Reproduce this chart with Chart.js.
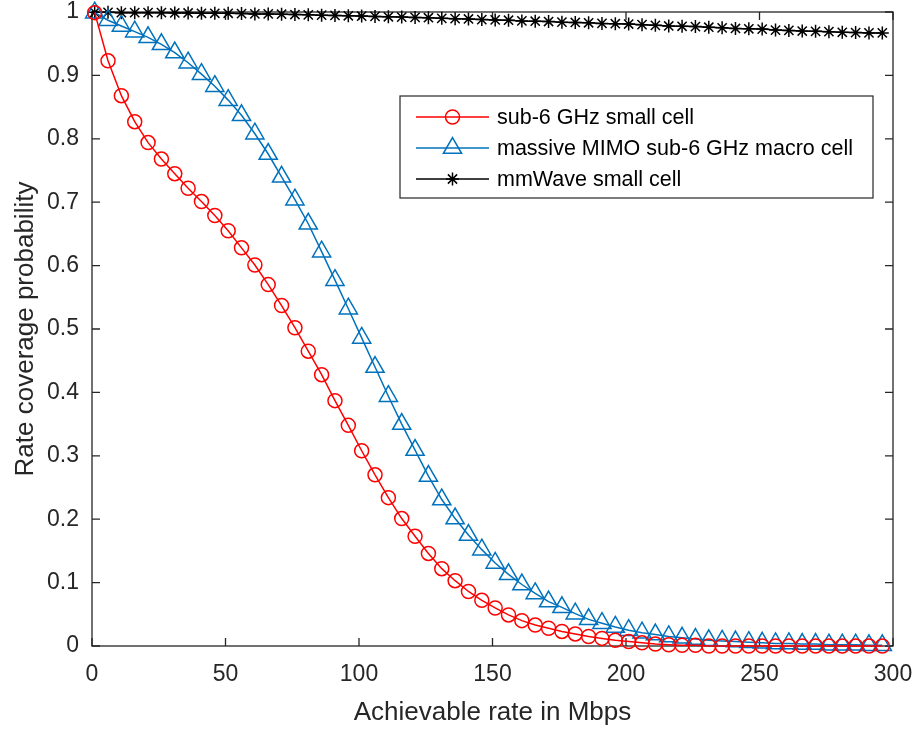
<!DOCTYPE html>
<html>
<head>
<meta charset="utf-8">
<script src="https://cdn.jsdelivr.net/npm/chart.js@4.4.1/dist/chart.umd.min.js"></script>
<style>
  html, body { margin: 0; padding: 0; background: #ffffff; }
  canvas { display: block; }
</style>
</head>
<body>
<canvas id="chart" width="917" height="730"></canvas>
<script>
// Achievable rate sample points (Mbps)
const rates = [1, 6, 11, 16, 21, 26, 31, 36, 41, 46, 51, 56, 61, 66, 71, 76, 81, 86, 91, 96,
  101, 106, 111, 116, 121, 126, 131, 136, 141, 146, 151, 156, 161, 166, 171, 176, 181, 186, 191, 196,
  201, 206, 211, 216, 221, 226, 231, 236, 241, 246, 251, 256, 261, 266, 271, 276, 281, 286, 291, 296];

// Rate coverage probability per tier
const sub6Small = [0.999, 0.923, 0.868, 0.827, 0.794, 0.768, 0.745, 0.722, 0.701, 0.679,
  0.655, 0.628, 0.601, 0.570, 0.537, 0.502, 0.465, 0.428, 0.387, 0.348,
  0.308, 0.270, 0.234, 0.201, 0.173, 0.146, 0.122, 0.103, 0.086, 0.072,
  0.060, 0.049, 0.040, 0.033, 0.028, 0.023, 0.019, 0.015, 0.012, 0.009,
  0.007, 0.005, 0.003, 0.002, 0.001, 0.001, 0.000, 0.000, 0.000, 0.000,
  0.000, 0.000, 0.000, 0.000, 0.000, 0.000, 0.000, 0.000, 0.000, 0.000];

const mimoMacro = [0.999, 0.987, 0.978, 0.969, 0.960, 0.949, 0.936, 0.920, 0.902, 0.883,
  0.861, 0.837, 0.808, 0.776, 0.740, 0.704, 0.666, 0.622, 0.577, 0.532,
  0.486, 0.440, 0.394, 0.350, 0.309, 0.268, 0.231, 0.201, 0.175, 0.152,
  0.131, 0.113, 0.097, 0.083, 0.070, 0.061, 0.051, 0.042, 0.036, 0.030,
  0.025, 0.021, 0.018, 0.015, 0.013, 0.011, 0.009, 0.008, 0.007, 0.006,
  0.005, 0.004, 0.004, 0.003, 0.003, 0.002, 0.002, 0.002, 0.001, 0.001];

const mmWaveSmall = [0.9995, 0.9995, 0.999, 0.999, 0.999, 0.999, 0.9985, 0.9985, 0.998, 0.998,
  0.998, 0.9975, 0.997, 0.997, 0.9965, 0.996, 0.9955, 0.995, 0.9945, 0.994,
  0.9935, 0.993, 0.9925, 0.992, 0.9915, 0.991, 0.990, 0.9895, 0.989, 0.988,
  0.9875, 0.987, 0.986, 0.9855, 0.985, 0.984, 0.9835, 0.983, 0.982, 0.9815,
  0.981, 0.980, 0.979, 0.978, 0.9775, 0.977, 0.976, 0.975, 0.974, 0.9735,
  0.973, 0.9715, 0.971, 0.970, 0.9695, 0.969, 0.968, 0.9675, 0.967, 0.967];

const seriesNames = ['sub-6 GHz small cell', 'massive MIMO sub-6 GHz macro cell', 'mmWave small cell'];
const xTickLabels = ['0', '50', '100', '150', '200', '250', '300'];
const yTickLabels = ['0', '0.1', '0.2', '0.3', '0.4', '0.5', '0.6', '0.7', '0.8', '0.9', '1'];
const xTitle = 'Achievable rate in Mbps';
const yTitle = 'Rate coverage probability';

const FONT = '"Liberation Sans", Arial, Helvetica, sans-serif';
const AXIS_COLOR = '#262626';

const toPoints = vals => rates.map((r, i) => ({ x: r, y: vals[i] }));

// Box around the axes with inward tick marks on all four sides
const axesBox = {
  id: 'axesBox',
  beforeDatasetsDraw(chart) {
    const { ctx, chartArea: a, scales: { x, y } } = chart;
    const tl = 8;
    ctx.save();
    ctx.strokeStyle = AXIS_COLOR;
    ctx.lineWidth = 1.3;
    ctx.strokeRect(a.left, a.top, a.right - a.left, a.bottom - a.top);
    ctx.beginPath();
    x.ticks.forEach(t => {
      const px = x.getPixelForValue(t.value);
      ctx.moveTo(px, a.bottom); ctx.lineTo(px, a.bottom - tl);
      ctx.moveTo(px, a.top); ctx.lineTo(px, a.top + tl);
    });
    y.ticks.forEach(t => {
      const py = y.getPixelForValue(t.value);
      ctx.moveTo(a.left, py); ctx.lineTo(a.left + tl, py);
      ctx.moveTo(a.right, py); ctx.lineTo(a.right - tl, py);
    });
    ctx.stroke();
    ctx.restore();
  }
};

// Boxed legend with line + marker samples
const boxLegend = {
  id: 'boxLegend',
  afterDraw(chart, args, opts) {
    const { ctx } = chart;
    const { left, top, width, height, rowTop, rowGap, lineFrom, lineTo, textX, fontSize } = opts;
    ctx.save();
    ctx.fillStyle = '#ffffff';
    ctx.fillRect(left, top, width, height);
    ctx.strokeStyle = AXIS_COLOR;
    ctx.lineWidth = 1.2;
    ctx.strokeRect(left, top, width, height);
    chart.data.datasets.forEach((ds, i) => {
      const yRow = rowTop + i * rowGap;
      ctx.strokeStyle = ds.borderColor;
      ctx.lineWidth = ds.borderWidth;
      ctx.beginPath();
      ctx.moveTo(lineFrom, yRow);
      ctx.lineTo(lineTo, yRow);
      ctx.stroke();
      ctx.fillStyle = 'rgba(0,0,0,0)';
      ctx.strokeStyle = ds.pointBorderColor;
      ctx.lineWidth = ds.pointBorderWidth;
      Chart.helpers.drawPoint(ctx, {
        pointStyle: ds.pointStyle, radius: ds.pointRadius, rotation: 0, borderWidth: ds.pointBorderWidth
      }, (lineFrom + lineTo) / 2, yRow);
      ctx.fillStyle = '#000000';
      ctx.font = fontSize + 'px ' + FONT;
      ctx.textBaseline = 'middle';
      ctx.textAlign = 'left';
      ctx.fillText(ds.label, textX, yRow + 1);
    });
    ctx.restore();
  }
};

const series = [
  { label: seriesNames[0], vals: sub6Small, color: '#ff0000', style: 'circle', radius: 7, pbw: 1.5 },
  { label: seriesNames[1], vals: mimoMacro, color: '#0072bd', style: 'triangle', radius: 10.5, pbw: 1.5 },
  { label: seriesNames[2], vals: mmWaveSmall, color: '#000000', style: 'star', radius: 6.5, pbw: 1.5 }
];

new Chart(document.getElementById('chart'), {
  type: 'line',
  data: {
    datasets: series.map(s => ({
      label: s.label,
      data: toPoints(s.vals),
      borderColor: s.color,
      borderWidth: 1.5,
      pointStyle: s.style,
      pointRadius: s.radius,
      pointHoverRadius: s.radius,
      pointBorderColor: s.color,
      pointBackgroundColor: 'rgba(0,0,0,0)',
      pointBorderWidth: s.pbw,
      tension: 0,
      clip: false
    }))
  },
  options: {
    responsive: false,
    animation: false,
    events: [],
    layout: { padding: { top: 11, right: 24, bottom: 0, left: 0 } },
    scales: {
      x: {
        type: 'linear',
        min: 0, max: 300,
        grid: { display: false, drawTicks: false },
        border: { display: false },
        ticks: {
          stepSize: 50,
          autoSkip: false,
          maxRotation: 0,
          padding: 15,
          color: AXIS_COLOR,
          font: { family: FONT, size: 23 },
          callback: v => xTickLabels[Math.round(v / 50)]
        },
        title: {
          display: true, text: xTitle, color: AXIS_COLOR,
          font: { family: FONT, size: 26 },
          padding: { top: 0, bottom: 2 }
        },
        afterFit(scale) { scale.height = 84; scale.paddingLeft = 0; scale.paddingRight = 0; }
      },
      y: {
        type: 'linear',
        min: 0, max: 1,
        grid: { display: false, drawTicks: false },
        border: { display: false },
        ticks: {
          stepSize: 0.1,
          autoSkip: false,
          padding: 13,
          color: AXIS_COLOR,
          font: { family: FONT, size: 23 },
          callback: v => yTickLabels[Math.round(v * 10)]
        },
        title: {
          display: true, text: yTitle, color: AXIS_COLOR,
          font: { family: FONT, size: 26 },
          padding: { top: 10, bottom: 0 }
        },
        afterFit(scale) { scale.width = 92; scale.paddingTop = 0; scale.paddingBottom = 0; }
      }
    },
    plugins: {
      legend: { display: false },
      tooltip: { enabled: false },
      boxLegend: {
        left: 400, top: 96, width: 473, height: 102,
        rowTop: 117, rowGap: 31, lineFrom: 416, lineTo: 489, textX: 497, fontSize: 21.5
      }
    }
  },
  plugins: [axesBox, boxLegend]
});
</script>
</body>
</html>
